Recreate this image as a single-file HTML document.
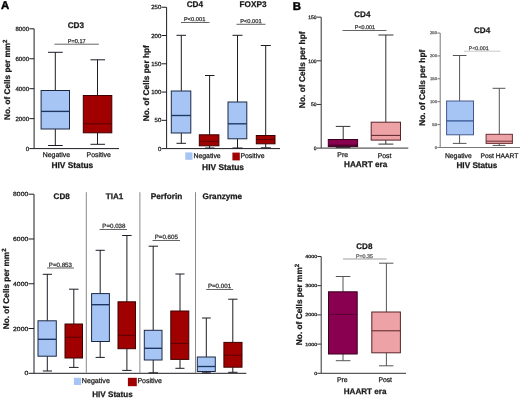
<!DOCTYPE html>
<html><head><meta charset="utf-8">
<style>
html,body{margin:0;padding:0;background:#fff;}
body{width:520px;height:398px;overflow:hidden;}
svg{display:block;font-family:"Liberation Sans",sans-serif;text-rendering:geometricPrecision;will-change:transform;}
</style></head>
<body>
<svg width="520" height="398" viewBox="0 0 520 398" shape-rendering="auto">
<rect x="0" y="0" width="520" height="398" fill="#fff"/>
<text transform="translate(5.05,5.30)" x="-4.10" y="3.93" font-size="11.4" font-weight="bold" fill="#000" stroke="#000" stroke-width="0.45" >A</text>
<text transform="translate(297.00,5.80)" x="-4.22" y="3.93" font-size="11.4" font-weight="bold" fill="#000" stroke="#000" stroke-width="0.45" >B</text>
<line x1="34.10" y1="28.80" x2="34.10" y2="148.60" stroke="#1c1c24" stroke-width="1.0"/>
<line x1="29.30" y1="28.80" x2="34.10" y2="28.80" stroke="#1c1c24" stroke-width="1.0"/>
<text transform="translate(28.80,28.80)" x="-13.33" y="2.13" font-size="6.1" fill="#1a1a1a" stroke="#1a1a1a" stroke-width="0.25" >8000</text>
<line x1="29.30" y1="58.75" x2="34.10" y2="58.75" stroke="#1c1c24" stroke-width="1.0"/>
<text transform="translate(28.80,58.75)" x="-13.33" y="2.13" font-size="6.1" fill="#1a1a1a" stroke="#1a1a1a" stroke-width="0.25" >6000</text>
<line x1="29.30" y1="88.70" x2="34.10" y2="88.70" stroke="#1c1c24" stroke-width="1.0"/>
<text transform="translate(28.80,88.70)" x="-13.33" y="2.13" font-size="6.1" fill="#1a1a1a" stroke="#1a1a1a" stroke-width="0.25" >4000</text>
<line x1="29.30" y1="118.65" x2="34.10" y2="118.65" stroke="#1c1c24" stroke-width="1.0"/>
<text transform="translate(28.80,118.65)" x="-13.33" y="2.13" font-size="6.1" fill="#1a1a1a" stroke="#1a1a1a" stroke-width="0.25" >2000</text>
<line x1="29.30" y1="148.60" x2="34.10" y2="148.60" stroke="#1c1c24" stroke-width="1.0"/>
<text transform="translate(28.80,148.60)" x="-3.14" y="2.13" font-size="6.1" fill="#1a1a1a" stroke="#1a1a1a" stroke-width="0.25" >0</text>
<line x1="34.10" y1="148.60" x2="119.00" y2="148.60" stroke="#1c1c24" stroke-width="1.0"/>
<line x1="55.30" y1="52.30" x2="55.30" y2="90.50" stroke="#1c1c24" stroke-width="1.0"/>
<line x1="55.30" y1="129.00" x2="55.30" y2="145.50" stroke="#1c1c24" stroke-width="1.0"/>
<line x1="48.00" y1="52.30" x2="62.70" y2="52.30" stroke="#1c1c24" stroke-width="1.0"/>
<line x1="48.00" y1="145.50" x2="62.70" y2="145.50" stroke="#1c1c24" stroke-width="1.0"/>
<rect x="41.10" y="90.50" width="28.40" height="38.50" fill="#a6c5f5" stroke="#1b2844" stroke-width="1.0"/>
<line x1="41.10" y1="111.40" x2="69.50" y2="111.40" stroke="#1e3560" stroke-width="1.35"/>
<line x1="97.50" y1="59.80" x2="97.50" y2="95.50" stroke="#1c1c24" stroke-width="1.0"/>
<line x1="97.50" y1="132.80" x2="97.50" y2="144.30" stroke="#1c1c24" stroke-width="1.0"/>
<line x1="90.50" y1="59.80" x2="105.00" y2="59.80" stroke="#1c1c24" stroke-width="1.0"/>
<line x1="90.50" y1="144.30" x2="105.00" y2="144.30" stroke="#1c1c24" stroke-width="1.0"/>
<rect x="83.30" y="95.50" width="28.50" height="37.30" fill="#a10000" stroke="#3c0000" stroke-width="1.0"/>
<line x1="83.30" y1="123.80" x2="111.80" y2="123.80" stroke="#5a0000" stroke-width="1.0"/>
<text transform="translate(75.90,24.90)" x="-8.22" y="2.87" font-size="8.2" font-weight="bold" fill="#1a1a1a" stroke="#1a1a1a" stroke-width="0.25" >CD3</text>
<line x1="54.50" y1="44.20" x2="98.80" y2="44.20" stroke="#555555" stroke-width="0.9"/>
<text transform="translate(76.75,40.65)" x="-9.03" y="1.96" font-size="5.6" fill="#333" stroke="#333" stroke-width="0.25" >P=0.17</text>
<text transform="translate(56.50,154.60)" x="-13.73" y="2.50" font-size="6.9" fill="#1a1a1a" stroke="#1a1a1a" stroke-width="0.25" >Negative</text>
<text transform="translate(98.80,154.60)" x="-12.20" y="2.50" font-size="6.9" fill="#1a1a1a" stroke="#1a1a1a" stroke-width="0.25" >Positive</text>
<text transform="translate(72.50,164.90)" x="-21.11" y="2.94" font-size="8.4" font-weight="bold" fill="#1a1a1a" stroke="#1a1a1a" stroke-width="0.25" >HIV Status</text>
<text transform="translate(10.3,119.4) rotate(-90)" x="-0.53" y="0" font-size="8.2" font-weight="bold" fill="#1a1a1a" stroke="#1a1a1a" stroke-width="0.25">No. of Cells per mm<tspan font-size="6.07" dy="-2.95">2</tspan></text>
<line x1="166.60" y1="7.25" x2="166.60" y2="148.60" stroke="#1c1c24" stroke-width="1.0"/>
<line x1="161.60" y1="7.25" x2="166.60" y2="7.25" stroke="#1c1c24" stroke-width="1.0"/>
<text transform="translate(161.00,7.25)" x="-9.75" y="2.10" font-size="6.0" fill="#1a1a1a" stroke="#1a1a1a" stroke-width="0.25" >250</text>
<line x1="161.60" y1="35.52" x2="166.60" y2="35.52" stroke="#1c1c24" stroke-width="1.0"/>
<text transform="translate(161.00,35.52)" x="-9.75" y="2.10" font-size="6.0" fill="#1a1a1a" stroke="#1a1a1a" stroke-width="0.25" >200</text>
<line x1="161.60" y1="63.79" x2="166.60" y2="63.79" stroke="#1c1c24" stroke-width="1.0"/>
<text transform="translate(161.00,63.79)" x="-9.75" y="2.10" font-size="6.0" fill="#1a1a1a" stroke="#1a1a1a" stroke-width="0.25" >150</text>
<line x1="161.60" y1="92.06" x2="166.60" y2="92.06" stroke="#1c1c24" stroke-width="1.0"/>
<text transform="translate(161.00,92.06)" x="-9.75" y="2.10" font-size="6.0" fill="#1a1a1a" stroke="#1a1a1a" stroke-width="0.25" >100</text>
<line x1="161.60" y1="120.33" x2="166.60" y2="120.33" stroke="#1c1c24" stroke-width="1.0"/>
<text transform="translate(161.00,120.33)" x="-6.42" y="2.10" font-size="6.0" fill="#1a1a1a" stroke="#1a1a1a" stroke-width="0.25" >50</text>
<line x1="161.60" y1="148.60" x2="166.60" y2="148.60" stroke="#1c1c24" stroke-width="1.0"/>
<text transform="translate(161.00,148.60)" x="-3.09" y="2.10" font-size="6.0" fill="#1a1a1a" stroke="#1a1a1a" stroke-width="0.25" >0</text>
<line x1="166.60" y1="148.60" x2="280.00" y2="148.60" stroke="#1c1c24" stroke-width="1.0"/>
<line x1="181.30" y1="35.30" x2="181.30" y2="91.00" stroke="#1c1c24" stroke-width="1.0"/>
<line x1="181.30" y1="133.00" x2="181.30" y2="143.30" stroke="#1c1c24" stroke-width="1.0"/>
<line x1="176.50" y1="35.30" x2="186.00" y2="35.30" stroke="#1c1c24" stroke-width="1.0"/>
<line x1="176.50" y1="143.30" x2="186.00" y2="143.30" stroke="#1c1c24" stroke-width="1.0"/>
<rect x="171.30" y="91.00" width="19.50" height="42.00" fill="#a6c5f5" stroke="#1b2844" stroke-width="1.0"/>
<line x1="171.30" y1="115.50" x2="190.80" y2="115.50" stroke="#1e3560" stroke-width="1.35"/>
<line x1="209.60" y1="75.50" x2="209.60" y2="134.80" stroke="#1c1c24" stroke-width="1.0"/>
<line x1="209.60" y1="145.80" x2="209.60" y2="148.00" stroke="#1c1c24" stroke-width="1.0"/>
<line x1="205.00" y1="75.50" x2="214.50" y2="75.50" stroke="#1c1c24" stroke-width="1.0"/>
<line x1="205.00" y1="148.00" x2="214.50" y2="148.00" stroke="#1c1c24" stroke-width="1.0"/>
<rect x="199.30" y="134.80" width="19.60" height="11.00" fill="#a10000" stroke="#3c0000" stroke-width="1.0"/>
<line x1="199.30" y1="141.30" x2="218.90" y2="141.30" stroke="#5a0000" stroke-width="1.0"/>
<line x1="237.50" y1="35.30" x2="237.50" y2="102.00" stroke="#1c1c24" stroke-width="1.0"/>
<line x1="237.50" y1="138.80" x2="237.50" y2="148.00" stroke="#1c1c24" stroke-width="1.0"/>
<line x1="232.50" y1="35.30" x2="242.50" y2="35.30" stroke="#1c1c24" stroke-width="1.0"/>
<line x1="232.50" y1="148.00" x2="242.50" y2="148.00" stroke="#1c1c24" stroke-width="1.0"/>
<rect x="228.00" y="102.00" width="18.80" height="36.80" fill="#a6c5f5" stroke="#1b2844" stroke-width="1.0"/>
<line x1="228.00" y1="123.80" x2="246.80" y2="123.80" stroke="#1e3560" stroke-width="1.35"/>
<line x1="265.70" y1="45.50" x2="265.70" y2="135.50" stroke="#1c1c24" stroke-width="1.0"/>
<line x1="265.70" y1="143.80" x2="265.70" y2="147.80" stroke="#1c1c24" stroke-width="1.0"/>
<line x1="260.80" y1="45.50" x2="270.80" y2="45.50" stroke="#1c1c24" stroke-width="1.0"/>
<line x1="260.80" y1="147.80" x2="270.80" y2="147.80" stroke="#1c1c24" stroke-width="1.0"/>
<rect x="256.30" y="135.50" width="18.70" height="8.30" fill="#a10000" stroke="#3c0000" stroke-width="1.0"/>
<line x1="256.30" y1="139.50" x2="275.00" y2="139.50" stroke="#5a0000" stroke-width="1.0"/>
<text transform="translate(195.00,4.10)" x="-8.34" y="2.87" font-size="8.2" font-weight="bold" fill="#1a1a1a" stroke="#1a1a1a" stroke-width="0.25" >CD4</text>
<text transform="translate(253.15,4.10)" x="-13.57" y="2.87" font-size="8.2" font-weight="bold" fill="#1a1a1a" stroke="#1a1a1a" stroke-width="0.25" >FOXP3</text>
<line x1="181.00" y1="22.50" x2="209.50" y2="22.50" stroke="#555555" stroke-width="0.9"/>
<text transform="translate(194.75,19.20)" x="-10.77" y="1.99" font-size="5.7" fill="#333" stroke="#333" stroke-width="0.25" >P&lt;0.001</text>
<line x1="236.50" y1="24.30" x2="265.50" y2="24.30" stroke="#555555" stroke-width="0.9"/>
<text transform="translate(251.00,21.20)" x="-10.77" y="1.99" font-size="5.7" fill="#333" stroke="#333" stroke-width="0.25" >P&lt;0.001</text>
<text transform="translate(148.8,120.7) rotate(-90)" x="-0.54" y="0" font-size="8.3" font-weight="bold" fill="#1a1a1a" stroke="#1a1a1a" stroke-width="0.25">No. of Cells per hpf</text>
<rect x="185.30" y="152.40" width="7.20" height="7.40" fill="#a6c5f5" stroke="none" stroke-width="1.0"/>
<text transform="translate(207.20,155.80)" x="-13.73" y="2.50" font-size="6.9" fill="#1a1a1a" stroke="#1a1a1a" stroke-width="0.25" >Negative</text>
<rect x="232.40" y="152.60" width="7.40" height="7.80" fill="#a10000" stroke="none" stroke-width="1.0"/>
<text transform="translate(252.60,155.80)" x="-12.20" y="2.50" font-size="6.9" fill="#1a1a1a" stroke="#1a1a1a" stroke-width="0.25" >Positive</text>
<text transform="translate(223.20,167.00)" x="-21.11" y="2.94" font-size="8.4" font-weight="bold" fill="#1a1a1a" stroke="#1a1a1a" stroke-width="0.25" >HIV Status</text>
<line x1="321.20" y1="17.15" x2="321.20" y2="148.10" stroke="#333" stroke-width="1.0"/>
<line x1="316.80" y1="17.15" x2="321.20" y2="17.15" stroke="#333" stroke-width="1.0"/>
<text transform="translate(316.30,17.15)" x="-8.12" y="1.75" font-size="5.0" fill="#1a1a1a" stroke="#1a1a1a" stroke-width="0.25" >150</text>
<line x1="316.80" y1="60.80" x2="321.20" y2="60.80" stroke="#333" stroke-width="1.0"/>
<text transform="translate(316.30,60.80)" x="-8.12" y="1.75" font-size="5.0" fill="#1a1a1a" stroke="#1a1a1a" stroke-width="0.25" >100</text>
<line x1="316.80" y1="104.45" x2="321.20" y2="104.45" stroke="#333" stroke-width="1.0"/>
<text transform="translate(316.30,104.45)" x="-5.35" y="1.75" font-size="5.0" fill="#1a1a1a" stroke="#1a1a1a" stroke-width="0.25" >50</text>
<line x1="316.80" y1="148.10" x2="321.20" y2="148.10" stroke="#333" stroke-width="1.0"/>
<text transform="translate(316.30,148.10)" x="-2.58" y="1.75" font-size="5.0" fill="#1a1a1a" stroke="#1a1a1a" stroke-width="0.25" >0</text>
<line x1="321.20" y1="148.10" x2="408.30" y2="148.10" stroke="#333" stroke-width="1.0"/>
<line x1="343.20" y1="126.40" x2="343.20" y2="139.50" stroke="#333" stroke-width="1.0"/>
<line x1="343.20" y1="146.60" x2="343.20" y2="147.60" stroke="#333" stroke-width="1.0"/>
<line x1="335.80" y1="126.40" x2="350.40" y2="126.40" stroke="#333" stroke-width="1.0"/>
<line x1="335.80" y1="147.60" x2="350.40" y2="147.60" stroke="#333" stroke-width="1.0"/>
<rect x="328.30" y="139.50" width="29.30" height="7.10" fill="#890050" stroke="#3a0020" stroke-width="1.0"/>
<line x1="328.30" y1="145.20" x2="357.60" y2="145.20" stroke="#3a0020" stroke-width="1.0"/>
<line x1="385.80" y1="35.00" x2="385.80" y2="122.20" stroke="#333" stroke-width="1.0"/>
<line x1="385.80" y1="140.10" x2="385.80" y2="144.10" stroke="#333" stroke-width="1.0"/>
<line x1="378.40" y1="35.00" x2="393.40" y2="35.00" stroke="#333" stroke-width="1.0"/>
<line x1="378.40" y1="144.10" x2="393.40" y2="144.10" stroke="#333" stroke-width="1.0"/>
<rect x="371.20" y="122.20" width="29.30" height="17.90" fill="#eda2a6" stroke="#5a2428" stroke-width="1.0"/>
<line x1="371.20" y1="135.40" x2="400.50" y2="135.40" stroke="#5a2428" stroke-width="1.0"/>
<text transform="translate(362.50,13.75)" x="-8.24" y="2.83" font-size="8.1" font-weight="bold" fill="#1a1a1a" stroke="#1a1a1a" stroke-width="0.25" >CD4</text>
<line x1="342.50" y1="30.50" x2="386.50" y2="30.50" stroke="#555555" stroke-width="0.9"/>
<text transform="translate(365.00,27.25)" x="-10.21" y="1.89" font-size="5.4" fill="#333" stroke="#333" stroke-width="0.25" >P&lt;0.001</text>
<text transform="translate(342.80,155.05)" x="-5.49" y="2.38" font-size="6.9" fill="#1a1a1a" stroke="#1a1a1a" stroke-width="0.25" >Pre</text>
<text transform="translate(384.85,155.25)" x="-7.16" y="2.38" font-size="6.9" fill="#1a1a1a" stroke="#1a1a1a" stroke-width="0.25" >Post</text>
<text transform="translate(365.95,164.00)" x="-21.93" y="2.83" font-size="8.2" font-weight="bold" fill="#1a1a1a" stroke="#1a1a1a" stroke-width="0.25" >HAART era</text>
<text transform="translate(305.2,107.6) rotate(-90)" x="-0.55" y="0" font-size="8.4" font-weight="bold" fill="#1a1a1a" stroke="#1a1a1a" stroke-width="0.25">No. of Cells per hpf</text>
<line x1="440.20" y1="33.05" x2="440.20" y2="147.45" stroke="#777" stroke-width="1.0"/>
<line x1="437.40" y1="33.05" x2="440.20" y2="33.05" stroke="#777" stroke-width="1.0"/>
<text transform="translate(436.90,33.05) scale(1.1,1.0)" x="-6.34" y="1.36" font-size="3.9" fill="#666" stroke="#666" stroke-width="0.25" >250</text>
<line x1="437.40" y1="55.93" x2="440.20" y2="55.93" stroke="#777" stroke-width="1.0"/>
<text transform="translate(436.90,55.93) scale(1.1,1.0)" x="-6.34" y="1.36" font-size="3.9" fill="#666" stroke="#666" stroke-width="0.25" >200</text>
<line x1="437.40" y1="78.81" x2="440.20" y2="78.81" stroke="#777" stroke-width="1.0"/>
<text transform="translate(436.90,78.81) scale(1.1,1.0)" x="-6.34" y="1.36" font-size="3.9" fill="#666" stroke="#666" stroke-width="0.25" >150</text>
<line x1="437.40" y1="101.69" x2="440.20" y2="101.69" stroke="#777" stroke-width="1.0"/>
<text transform="translate(436.90,101.69) scale(1.1,1.0)" x="-6.34" y="1.36" font-size="3.9" fill="#666" stroke="#666" stroke-width="0.25" >100</text>
<line x1="437.40" y1="124.57" x2="440.20" y2="124.57" stroke="#777" stroke-width="1.0"/>
<text transform="translate(436.90,124.57) scale(1.1,1.0)" x="-4.17" y="1.36" font-size="3.9" fill="#666" stroke="#666" stroke-width="0.25" >50</text>
<line x1="437.40" y1="147.45" x2="440.20" y2="147.45" stroke="#777" stroke-width="1.0"/>
<text transform="translate(436.90,147.45) scale(1.1,1.0)" x="-2.01" y="1.36" font-size="3.9" fill="#666" stroke="#666" stroke-width="0.25" >0</text>
<line x1="440.20" y1="147.45" x2="520.00" y2="147.45" stroke="#777" stroke-width="1.1"/>
<line x1="459.60" y1="55.50" x2="459.60" y2="101.00" stroke="#555" stroke-width="1.0"/>
<line x1="459.60" y1="134.80" x2="459.60" y2="143.40" stroke="#555" stroke-width="1.0"/>
<line x1="452.80" y1="55.50" x2="466.50" y2="55.50" stroke="#555" stroke-width="1.0"/>
<line x1="452.80" y1="143.40" x2="466.50" y2="143.40" stroke="#555" stroke-width="1.0"/>
<rect x="446.60" y="101.00" width="26.90" height="33.80" fill="#a6c5f5" stroke="#44598a" stroke-width="1.0"/>
<line x1="446.60" y1="120.90" x2="473.50" y2="120.90" stroke="#3a5a95" stroke-width="1.35"/>
<line x1="499.30" y1="88.30" x2="499.30" y2="134.30" stroke="#555" stroke-width="1.0"/>
<line x1="499.30" y1="143.40" x2="499.30" y2="145.40" stroke="#555" stroke-width="1.0"/>
<line x1="492.60" y1="88.30" x2="505.40" y2="88.30" stroke="#555" stroke-width="1.0"/>
<line x1="492.60" y1="145.40" x2="505.40" y2="145.40" stroke="#555" stroke-width="1.0"/>
<rect x="486.10" y="134.30" width="26.30" height="9.10" fill="#eda2a6" stroke="#6a3035" stroke-width="1.0"/>
<line x1="486.10" y1="141.20" x2="512.40" y2="141.20" stroke="#6a3035" stroke-width="1.0"/>
<text transform="translate(482.20,29.85)" x="-8.24" y="2.83" font-size="8.1" font-weight="bold" fill="#1a1a1a" stroke="#1a1a1a" stroke-width="0.25" >CD4</text>
<line x1="464.00" y1="51.20" x2="500.50" y2="51.20" stroke="#b0b0b0" stroke-width="0.7"/>
<text transform="translate(478.75,47.90)" x="-10.02" y="1.85" font-size="5.3" fill="#444" stroke="#444" stroke-width="0.25" >P&lt;0.001</text>
<text transform="translate(458.45,155.40)" x="-13.53" y="2.46" font-size="6.8" fill="#1a1a1a" stroke="#1a1a1a" stroke-width="0.25" >Negative</text>
<text transform="translate(499.65,155.40)" x="-19.13" y="2.31" font-size="6.7" fill="#1a1a1a" stroke="#1a1a1a" stroke-width="0.25" >Post HAART</text>
<text transform="translate(477.05,165.00)" x="-20.60" y="2.87" font-size="8.2" font-weight="bold" fill="#1a1a1a" stroke="#1a1a1a" stroke-width="0.25" >HIV Status</text>
<text transform="translate(425.4,125.3) rotate(-90)" x="-0.54" y="0" font-size="8.3" font-weight="bold" fill="#1a1a1a" stroke="#1a1a1a" stroke-width="0.25">No. of Cells per hpf</text>
<line x1="34.00" y1="194.20" x2="34.00" y2="373.30" stroke="#1c1c24" stroke-width="1.0"/>
<line x1="28.50" y1="194.20" x2="34.00" y2="194.20" stroke="#1c1c24" stroke-width="1.0"/>
<text transform="translate(27.90,194.20) scale(1.13,1.0)" x="-13.11" y="2.10" font-size="6.0" fill="#1a1a1a" stroke="#1a1a1a" stroke-width="0.25" >8000</text>
<line x1="28.50" y1="238.98" x2="34.00" y2="238.98" stroke="#1c1c24" stroke-width="1.0"/>
<text transform="translate(27.90,238.98) scale(1.13,1.0)" x="-13.11" y="2.10" font-size="6.0" fill="#1a1a1a" stroke="#1a1a1a" stroke-width="0.25" >6000</text>
<line x1="28.50" y1="283.75" x2="34.00" y2="283.75" stroke="#1c1c24" stroke-width="1.0"/>
<text transform="translate(27.90,283.75) scale(1.13,1.0)" x="-13.11" y="2.10" font-size="6.0" fill="#1a1a1a" stroke="#1a1a1a" stroke-width="0.25" >4000</text>
<line x1="28.50" y1="328.53" x2="34.00" y2="328.53" stroke="#1c1c24" stroke-width="1.0"/>
<text transform="translate(27.90,328.53) scale(1.13,1.0)" x="-13.11" y="2.10" font-size="6.0" fill="#1a1a1a" stroke="#1a1a1a" stroke-width="0.25" >2000</text>
<line x1="28.50" y1="373.30" x2="34.00" y2="373.30" stroke="#1c1c24" stroke-width="1.0"/>
<text transform="translate(27.90,373.30) scale(1.13,1.0)" x="-3.09" y="2.10" font-size="6.0" fill="#1a1a1a" stroke="#1a1a1a" stroke-width="0.25" >0</text>
<line x1="34.00" y1="373.30" x2="246.30" y2="373.30" stroke="#1c1c24" stroke-width="1.0"/>
<line x1="86.30" y1="192.20" x2="86.30" y2="373.20" stroke="#8a8a8a" stroke-width="1.0"/>
<line x1="139.90" y1="192.20" x2="139.90" y2="373.20" stroke="#8a8a8a" stroke-width="1.0"/>
<line x1="195.50" y1="192.20" x2="195.50" y2="373.20" stroke="#8a8a8a" stroke-width="1.0"/>
<line x1="47.30" y1="274.30" x2="47.30" y2="320.80" stroke="#1c1c24" stroke-width="1.0"/>
<line x1="47.30" y1="356.20" x2="47.30" y2="371.00" stroke="#1c1c24" stroke-width="1.0"/>
<line x1="42.80" y1="274.30" x2="52.00" y2="274.30" stroke="#1c1c24" stroke-width="1.0"/>
<line x1="42.80" y1="371.00" x2="52.00" y2="371.00" stroke="#1c1c24" stroke-width="1.0"/>
<rect x="38.00" y="320.80" width="18.30" height="35.40" fill="#a6c5f5" stroke="#1b2844" stroke-width="1.0"/>
<line x1="38.00" y1="339.30" x2="56.30" y2="339.30" stroke="#1e3560" stroke-width="1.35"/>
<line x1="73.80" y1="289.20" x2="73.80" y2="324.00" stroke="#1c1c24" stroke-width="1.0"/>
<line x1="73.80" y1="358.00" x2="73.80" y2="367.40" stroke="#1c1c24" stroke-width="1.0"/>
<line x1="69.00" y1="289.20" x2="78.60" y2="289.20" stroke="#1c1c24" stroke-width="1.0"/>
<line x1="69.00" y1="367.40" x2="78.60" y2="367.40" stroke="#1c1c24" stroke-width="1.0"/>
<rect x="65.00" y="324.00" width="17.50" height="34.00" fill="#a10000" stroke="#3c0000" stroke-width="1.0"/>
<line x1="65.00" y1="337.20" x2="82.50" y2="337.20" stroke="#5a0000" stroke-width="1.0"/>
<line x1="100.20" y1="250.30" x2="100.20" y2="293.60" stroke="#1c1c24" stroke-width="1.0"/>
<line x1="100.20" y1="341.50" x2="100.20" y2="357.40" stroke="#1c1c24" stroke-width="1.0"/>
<line x1="95.60" y1="250.30" x2="104.80" y2="250.30" stroke="#1c1c24" stroke-width="1.0"/>
<line x1="95.60" y1="357.40" x2="104.80" y2="357.40" stroke="#1c1c24" stroke-width="1.0"/>
<rect x="91.60" y="293.60" width="17.80" height="47.90" fill="#a6c5f5" stroke="#1b2844" stroke-width="1.0"/>
<line x1="91.60" y1="304.70" x2="109.40" y2="304.70" stroke="#1e3560" stroke-width="1.35"/>
<line x1="126.90" y1="235.50" x2="126.90" y2="301.80" stroke="#1c1c24" stroke-width="1.0"/>
<line x1="126.90" y1="348.70" x2="126.90" y2="370.40" stroke="#1c1c24" stroke-width="1.0"/>
<line x1="122.20" y1="235.50" x2="131.60" y2="235.50" stroke="#1c1c24" stroke-width="1.0"/>
<line x1="122.20" y1="370.40" x2="131.60" y2="370.40" stroke="#1c1c24" stroke-width="1.0"/>
<rect x="118.00" y="301.80" width="17.50" height="46.90" fill="#a10000" stroke="#3c0000" stroke-width="1.0"/>
<line x1="118.00" y1="335.30" x2="135.50" y2="335.30" stroke="#5a0000" stroke-width="1.0"/>
<line x1="153.20" y1="246.20" x2="153.20" y2="330.30" stroke="#1c1c24" stroke-width="1.0"/>
<line x1="153.20" y1="360.00" x2="153.20" y2="372.80" stroke="#1c1c24" stroke-width="1.0"/>
<line x1="148.60" y1="246.20" x2="158.00" y2="246.20" stroke="#1c1c24" stroke-width="1.0"/>
<line x1="148.60" y1="372.80" x2="158.00" y2="372.80" stroke="#1c1c24" stroke-width="1.0"/>
<rect x="144.30" y="330.30" width="17.70" height="29.70" fill="#a6c5f5" stroke="#1b2844" stroke-width="1.0"/>
<line x1="144.30" y1="348.30" x2="162.00" y2="348.30" stroke="#1e3560" stroke-width="1.35"/>
<line x1="180.00" y1="274.00" x2="180.00" y2="311.00" stroke="#1c1c24" stroke-width="1.0"/>
<line x1="180.00" y1="359.40" x2="180.00" y2="368.30" stroke="#1c1c24" stroke-width="1.0"/>
<line x1="175.40" y1="274.00" x2="184.50" y2="274.00" stroke="#1c1c24" stroke-width="1.0"/>
<line x1="175.40" y1="368.30" x2="184.50" y2="368.30" stroke="#1c1c24" stroke-width="1.0"/>
<rect x="170.80" y="311.00" width="18.00" height="48.40" fill="#a10000" stroke="#3c0000" stroke-width="1.0"/>
<line x1="170.80" y1="343.40" x2="188.80" y2="343.40" stroke="#5a0000" stroke-width="1.0"/>
<line x1="206.30" y1="318.00" x2="206.30" y2="357.00" stroke="#1c1c24" stroke-width="1.0"/>
<line x1="206.30" y1="371.50" x2="206.30" y2="372.80" stroke="#1c1c24" stroke-width="1.0"/>
<line x1="202.00" y1="318.00" x2="210.80" y2="318.00" stroke="#1c1c24" stroke-width="1.0"/>
<line x1="202.00" y1="372.80" x2="210.80" y2="372.80" stroke="#1c1c24" stroke-width="1.0"/>
<rect x="197.30" y="357.00" width="18.00" height="14.50" fill="#a6c5f5" stroke="#1b2844" stroke-width="1.0"/>
<line x1="197.30" y1="366.50" x2="215.30" y2="366.50" stroke="#1e3560" stroke-width="1.35"/>
<line x1="232.80" y1="299.20" x2="232.80" y2="342.40" stroke="#1c1c24" stroke-width="1.0"/>
<line x1="232.80" y1="367.20" x2="232.80" y2="372.30" stroke="#1c1c24" stroke-width="1.0"/>
<line x1="228.20" y1="299.20" x2="237.50" y2="299.20" stroke="#1c1c24" stroke-width="1.0"/>
<line x1="228.20" y1="372.30" x2="237.50" y2="372.30" stroke="#1c1c24" stroke-width="1.0"/>
<rect x="223.90" y="342.40" width="18.10" height="24.80" fill="#a10000" stroke="#3c0000" stroke-width="1.0"/>
<line x1="223.90" y1="355.20" x2="242.00" y2="355.20" stroke="#5a0000" stroke-width="1.0"/>
<text transform="translate(61.70,196.00)" x="-8.14" y="2.83" font-size="8.1" font-weight="bold" fill="#1a1a1a" stroke="#1a1a1a" stroke-width="0.25" >CD8</text>
<text transform="translate(114.50,195.80)" x="-8.71" y="2.79" font-size="8.1" font-weight="bold" fill="#1a1a1a" stroke="#1a1a1a" stroke-width="0.25" >TIA1</text>
<text transform="translate(166.50,195.80)" x="-15.74" y="2.97" font-size="8.2" font-weight="bold" fill="#1a1a1a" stroke="#1a1a1a" stroke-width="0.25" >Perforin</text>
<text transform="translate(222.35,195.80)" x="-19.84" y="2.87" font-size="8.2" font-weight="bold" fill="#1a1a1a" stroke="#1a1a1a" stroke-width="0.25" >Granzyme</text>
<line x1="47.00" y1="268.00" x2="74.00" y2="268.00" stroke="#555555" stroke-width="0.9"/>
<text transform="translate(60.50,264.50)" x="-11.73" y="2.17" font-size="6.2" fill="#333" stroke="#333" stroke-width="0.25" >P=0.853</text>
<line x1="99.50" y1="229.50" x2="127.00" y2="229.50" stroke="#555555" stroke-width="0.9"/>
<text transform="translate(114.00,226.25)" x="-11.75" y="2.17" font-size="6.2" fill="#333" stroke="#333" stroke-width="0.25" >P=0.038</text>
<line x1="152.50" y1="240.50" x2="180.00" y2="240.50" stroke="#555555" stroke-width="0.9"/>
<text transform="translate(166.40,236.50)" x="-11.75" y="2.17" font-size="6.2" fill="#333" stroke="#333" stroke-width="0.25" >P=0.605</text>
<line x1="206.20" y1="289.50" x2="233.20" y2="289.50" stroke="#555555" stroke-width="0.9"/>
<text transform="translate(219.60,285.90)" x="-11.72" y="2.17" font-size="6.2" fill="#333" stroke="#333" stroke-width="0.25" >P=0.001</text>
<text transform="translate(8.9,328.8) rotate(-90)" x="-0.54" y="0" font-size="8.25" font-weight="bold" fill="#1a1a1a" stroke="#1a1a1a" stroke-width="0.25">No. of Cells per mm<tspan font-size="6.10" dy="-2.97">2</tspan></text>
<rect x="73.90" y="377.80" width="7.20" height="7.20" fill="#a6c5f5" stroke="none" stroke-width="1.0"/>
<text transform="translate(95.95,380.80)" x="-14.13" y="2.57" font-size="7.1" fill="#1a1a1a" stroke="#1a1a1a" stroke-width="0.25" >Negative</text>
<rect x="127.90" y="377.80" width="8.90" height="8.40" fill="#a10000" stroke="none" stroke-width="1.0"/>
<text transform="translate(149.80,380.80)" x="-12.37" y="2.54" font-size="7.0" fill="#1a1a1a" stroke="#1a1a1a" stroke-width="0.25" >Positive</text>
<text transform="translate(112.60,394.00)" x="-20.35" y="2.83" font-size="8.1" font-weight="bold" fill="#1a1a1a" stroke="#1a1a1a" stroke-width="0.25" >HIV Status</text>
<line x1="321.20" y1="256.50" x2="321.20" y2="373.30" stroke="#333" stroke-width="1.0"/>
<line x1="317.40" y1="256.50" x2="321.20" y2="256.50" stroke="#333" stroke-width="1.0"/>
<text transform="translate(317.00,256.50) scale(1.2,1.0)" x="-9.83" y="1.57" font-size="4.5" fill="#1a1a1a" stroke="#1a1a1a" stroke-width="0.25" >4000</text>
<line x1="317.40" y1="285.70" x2="321.20" y2="285.70" stroke="#333" stroke-width="1.0"/>
<text transform="translate(317.00,285.70) scale(1.2,1.0)" x="-9.83" y="1.57" font-size="4.5" fill="#1a1a1a" stroke="#1a1a1a" stroke-width="0.25" >3000</text>
<line x1="317.40" y1="314.90" x2="321.20" y2="314.90" stroke="#333" stroke-width="1.0"/>
<text transform="translate(317.00,314.90) scale(1.2,1.0)" x="-9.83" y="1.57" font-size="4.5" fill="#1a1a1a" stroke="#1a1a1a" stroke-width="0.25" >2000</text>
<line x1="317.40" y1="344.10" x2="321.20" y2="344.10" stroke="#333" stroke-width="1.0"/>
<text transform="translate(317.00,344.10) scale(1.2,1.0)" x="-9.83" y="1.57" font-size="4.5" fill="#1a1a1a" stroke="#1a1a1a" stroke-width="0.25" >1000</text>
<line x1="317.40" y1="373.30" x2="321.20" y2="373.30" stroke="#333" stroke-width="1.0"/>
<text transform="translate(317.00,373.30) scale(1.2,1.0)" x="-2.32" y="1.57" font-size="4.5" fill="#1a1a1a" stroke="#1a1a1a" stroke-width="0.25" >0</text>
<line x1="321.20" y1="373.30" x2="406.00" y2="373.30" stroke="#333" stroke-width="1.0"/>
<line x1="343.00" y1="276.50" x2="343.00" y2="291.80" stroke="#555" stroke-width="1.0"/>
<line x1="343.00" y1="354.00" x2="343.00" y2="360.70" stroke="#555" stroke-width="1.0"/>
<line x1="335.80" y1="276.50" x2="350.40" y2="276.50" stroke="#555" stroke-width="1.0"/>
<line x1="335.80" y1="360.70" x2="350.40" y2="360.70" stroke="#555" stroke-width="1.0"/>
<rect x="328.50" y="291.80" width="28.70" height="62.20" fill="#890050" stroke="#3a0020" stroke-width="1.0"/>
<line x1="328.50" y1="314.40" x2="357.20" y2="314.40" stroke="#5c0032" stroke-width="1.0"/>
<line x1="386.40" y1="263.20" x2="386.40" y2="312.00" stroke="#555" stroke-width="1.0"/>
<line x1="386.40" y1="352.80" x2="386.40" y2="365.80" stroke="#555" stroke-width="1.0"/>
<line x1="379.00" y1="263.20" x2="393.40" y2="263.20" stroke="#555" stroke-width="1.0"/>
<line x1="379.00" y1="365.80" x2="393.40" y2="365.80" stroke="#555" stroke-width="1.0"/>
<rect x="371.80" y="312.00" width="28.60" height="40.80" fill="#eda2a6" stroke="#5a2428" stroke-width="1.0"/>
<line x1="371.80" y1="330.80" x2="400.40" y2="330.80" stroke="#5a2428" stroke-width="1.0"/>
<text transform="translate(364.35,246.15)" x="-8.14" y="2.83" font-size="8.1" font-weight="bold" fill="#1a1a1a" stroke="#1a1a1a" stroke-width="0.25" >CD8</text>
<line x1="343.00" y1="259.00" x2="386.50" y2="259.00" stroke="#a0a0a0" stroke-width="1.2"/>
<text transform="translate(364.50,256.25)" x="-8.57" y="1.85" font-size="5.3" fill="#555" stroke="#555" stroke-width="0.25" >P=0.35</text>
<text transform="translate(342.40,379.60)" x="-5.49" y="2.38" font-size="6.9" fill="#1a1a1a" stroke="#1a1a1a" stroke-width="0.25" >Pre</text>
<text transform="translate(385.45,379.60)" x="-7.06" y="2.35" font-size="6.8" fill="#1a1a1a" stroke="#1a1a1a" stroke-width="0.25" >Post</text>
<text transform="translate(365.35,390.90)" x="-21.67" y="2.79" font-size="8.1" font-weight="bold" fill="#1a1a1a" stroke="#1a1a1a" stroke-width="0.25" >HAART era</text>
<text transform="translate(302.0,344.6) rotate(-90)" x="-0.54" y="0" font-size="8.3" font-weight="bold" fill="#1a1a1a" stroke="#1a1a1a" stroke-width="0.25">No. of Cells per mm<tspan font-size="6.14" dy="-2.99">2</tspan></text>
</svg>
</body></html>
